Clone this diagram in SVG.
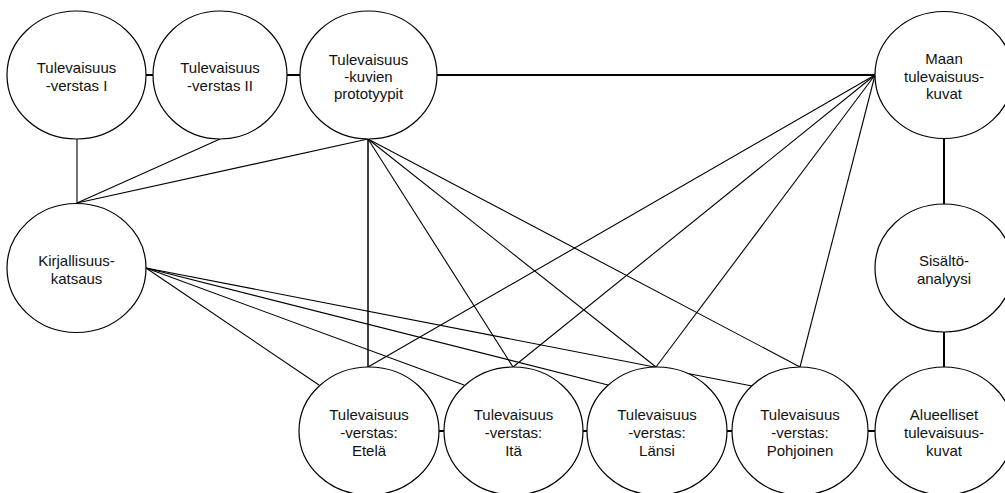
<svg xmlns="http://www.w3.org/2000/svg" width="1005" height="493" viewBox="0 0 1005 493">
<style>
.n ellipse{fill:#fff;stroke:#000;stroke-width:1.2}
.n text{font-family:"Liberation Sans",Arial,sans-serif;font-size:15px;fill:#111;text-anchor:middle}
.c line{stroke:#000;stroke-width:1.1;fill:none}
.c .t{stroke-width:2}
</style>
<rect width="1005" height="493" fill="#fff"/>
<g class="c" id="connectors">
<line class="t" x1="146" y1="75" x2="153" y2="75"/>
<line class="t" x1="287" y1="75" x2="300" y2="75"/>
<line class="t" x1="437" y1="75" x2="875" y2="75"/>
<line x1="77" y1="139" x2="77" y2="203"/>
<line x1="220" y1="139" x2="77" y2="203"/>
<line x1="368" y1="139" x2="77" y2="203"/>
<line x1="146" y1="268" x2="319" y2="385"/>
<line x1="146" y1="268" x2="464" y2="385"/>
<line x1="146" y1="268" x2="608" y2="385"/>
<line x1="146" y1="268" x2="752" y2="386"/>
<line x1="368" y1="139" x2="368" y2="367" style="stroke-width:1.5"/>
<line x1="368" y1="139" x2="513" y2="367"/>
<line x1="368" y1="139" x2="656" y2="367"/>
<line x1="368" y1="139" x2="800" y2="367"/>
<line x1="875" y1="75" x2="368" y2="367"/>
<line x1="875" y1="75" x2="513" y2="367"/>
<line x1="875" y1="75" x2="656" y2="367"/>
<line x1="875" y1="75" x2="800" y2="367"/>
<line class="t" x1="944" y1="139" x2="944" y2="204"/>
<line class="t" x1="944" y1="332" x2="944" y2="367"/>
<line class="t" x1="439" y1="431" x2="444" y2="431"/>
<line class="t" x1="583" y1="431" x2="587" y2="431"/>
<line class="t" x1="727" y1="431" x2="732" y2="431"/>
<line class="t" x1="868" y1="431" x2="875" y2="431"/>
</g>
<g class="n" id="verstas1"><ellipse cx="76.5" cy="75" rx="69.5" ry="64"/><text x="76.5" y="73">Tulevaisuus</text><text x="76.5" y="91">-verstas I</text></g>
<g class="n" id="verstas2"><ellipse cx="220" cy="75" rx="67" ry="64"/><text x="220" y="73">Tulevaisuus</text><text x="220" y="91">-verstas II</text></g>
<g class="n" id="prototyypit"><ellipse cx="368.5" cy="75" rx="68.5" ry="64"/><text x="368.5" y="65">Tulevaisuus</text><text x="368.5" y="82">-kuvien</text><text x="368.5" y="99">prototyypit</text></g>
<g class="n" id="maan"><ellipse cx="944" cy="75" rx="69" ry="63.5"/><text x="944" y="64">Maan</text><text x="944" y="81.5">tulevaisuus-</text><text x="944" y="99">kuvat</text></g>
<g class="n" id="kirjallisuus"><ellipse cx="76.5" cy="268" rx="69.5" ry="64.5"/><text x="76.5" y="266">Kirjallisuus-</text><text x="76.5" y="284">katsaus</text></g>
<g class="n" id="sisalto"><ellipse cx="944" cy="268" rx="69" ry="64"/><text x="944" y="266">Sisältö-</text><text x="944" y="284">analyysi</text></g>
<g class="n" id="etela"><ellipse cx="369" cy="431" rx="70" ry="64"/><text x="369" y="420">Tulevaisuus</text><text x="369" y="438">-verstas:</text><text x="369" y="456">Etelä</text></g>
<g class="n" id="ita"><ellipse cx="513.5" cy="431" rx="69.5" ry="64"/><text x="513.5" y="420">Tulevaisuus</text><text x="513.5" y="438">-verstas:</text><text x="513.5" y="456">Itä</text></g>
<g class="n" id="lansi"><ellipse cx="657" cy="431" rx="70" ry="64"/><text x="657" y="420">Tulevaisuus</text><text x="657" y="438">-verstas:</text><text x="657" y="456">Länsi</text></g>
<g class="n" id="pohjoinen"><ellipse cx="800" cy="431" rx="68" ry="64"/><text x="800" y="420">Tulevaisuus</text><text x="800" y="438">-verstas:</text><text x="800" y="456">Pohjoinen</text></g>
<g class="n" id="alueelliset"><ellipse cx="944" cy="431" rx="69" ry="64"/><text x="944" y="420">Alueelliset</text><text x="944" y="438">tulevaisuus-</text><text x="944" y="456">kuvat</text></g>
</svg>
